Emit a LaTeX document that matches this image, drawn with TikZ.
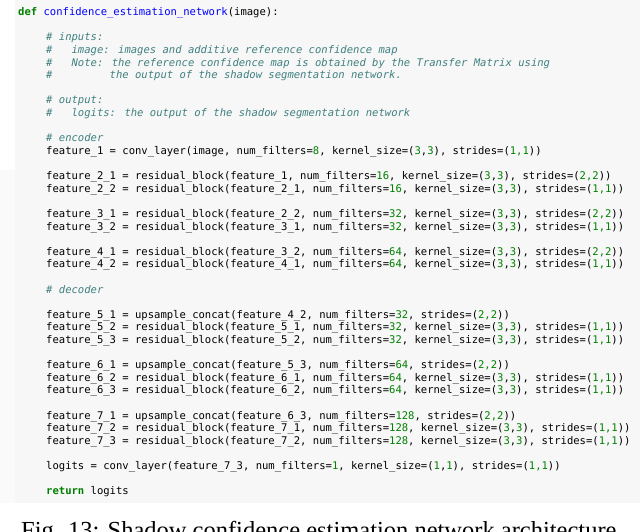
\documentclass[tikz,border=0pt]{standalone}
\usepackage{fontspec}
\setmainfont{Liberation Serif}
\newfontfamily\codefam{DejaVu Sans Mono}
\definecolor{kwgreen}{HTML}{008000}
\definecolor{fnblue}{HTML}{0000FF}
\definecolor{cmteal}{HTML}{408080}
\definecolor{panel}{HTML}{F7F7F7}
\newcommand\G[1]{\textcolor{kwgreen}{#1}}
\newcommand\KW[1]{\textcolor{kwgreen}{\bfseries #1}}
\newcommand\CM[1]{\textcolor{cmteal}{\itshape #1}}
\newcommand\resline[4]{feature\_#1 = residual\_block(feature\_#2, num\_filters=\G{#3}, kernel\_size=(\G{3},\G{3}), strides=(\G{#4}))}
\newcommand\upline[3]{feature\_#1 = upsample\_concat(feature\_#2, num\_filters=\G{#3}, strides=(\G{2,2}))}
\begin{document}
\begin{tikzpicture}[x=1pt,y=-1pt,
  code/.style={anchor=base west,inner sep=0pt,font=\codefam\fontsize{10.55}{12}\selectfont}]
\useasboundingbox (0,0) rectangle (640,532);
\clip (0,0) rectangle (640,532);
\fill[panel] (15,0) rectangle (640,503);
\fill[panel!60!white] (0,170) rectangle (15,503);
\node[code] (l0) at (18,16) {\KW{def} \textcolor{fnblue}{confidence\_estimation\_network}(image):};
\node[code] (l2) at (46,41) {\CM{\# inputs:}};
\node[code] (l3) at (46,53.6) {\CM{\#\ \ \ image: images and additive reference confidence map}};
\node[code] (l4) at (46,66.2) {\CM{\#\ \ \ Note: the reference confidence map is obtained by the Transfer Matrix using}};
\node[code] (l5) at (46,78.8) {\CM{\#\ \ \ \ \ \ \ \ \ the output of the shadow segmentation network.}};
\node[code] (l7) at (46,104) {\CM{\# output:}};
\node[code] (l8) at (46,116.6) {\CM{\#\ \ \ logits: the output of the shadow segmentation network}};
\node[code] (l10) at (46,141.8) {\CM{\# encoder}};
\node[code] (l11) at (46,154.4) {feature\_1 = conv\_layer(image, num\_filters=\G{8}, kernel\_size=(\G{3},\G{3}), strides=(\G{1,1}))};
\node[code] (l13) at (46,179.6) {\resline{2\_1}{1}{16}{2,2}};
\node[code] (l14) at (46,192.2) {\resline{2\_2}{2\_1}{16}{1,1}};
\node[code] (l16) at (46,217.4) {\resline{3\_1}{2\_2}{32}{2,2}};
\node[code] (l17) at (46,230) {\resline{3\_2}{3\_1}{32}{1,1}};
\node[code] (l19) at (46,255.2) {\resline{4\_1}{3\_2}{64}{2,2}};
\node[code] (l20) at (46,267.8) {\resline{4\_2}{4\_1}{64}{1,1}};
\node[code] (l22) at (46,293) {\CM{\# decoder}};
\node[code] (l24) at (46,318.2) {\upline{5\_1}{4\_2}{32}};
\node[code] (l25) at (46,330.8) {\resline{5\_2}{5\_1}{32}{1,1}};
\node[code] (l26) at (46,343.4) {\resline{5\_3}{5\_2}{32}{1,1}};
\node[code] (l28) at (46,368.6) {\upline{6\_1}{5\_3}{64}};
\node[code] (l29) at (46,381.2) {\resline{6\_2}{6\_1}{64}{1,1}};
\node[code] (l30) at (46,393.8) {\resline{6\_3}{6\_2}{64}{1,1}};
\node[code] (l32) at (46,419) {\upline{7\_1}{6\_3}{128}};
\node[code] (l33) at (46,431.6) {\resline{7\_2}{7\_1}{128}{1,1}};
\node[code] (l34) at (46,444.2) {\resline{7\_3}{7\_2}{128}{1,1}};
\node[code] (l36) at (46,469.4) {logits = conv\_layer(feature\_7\_3, num\_filters=\G{1}, kernel\_size=(\G{1},\G{1}), strides=(\G{1,1}))};
\node[code] (l38) at (46,494.6) {\KW{return} logits};
\node[anchor=base west,inner sep=0pt,font=\fontsize{24.5}{26}\selectfont] (cap) at (21,538) {Fig. 13: Shadow confidence estimation network architecture};
\end{tikzpicture}
\end{document}
